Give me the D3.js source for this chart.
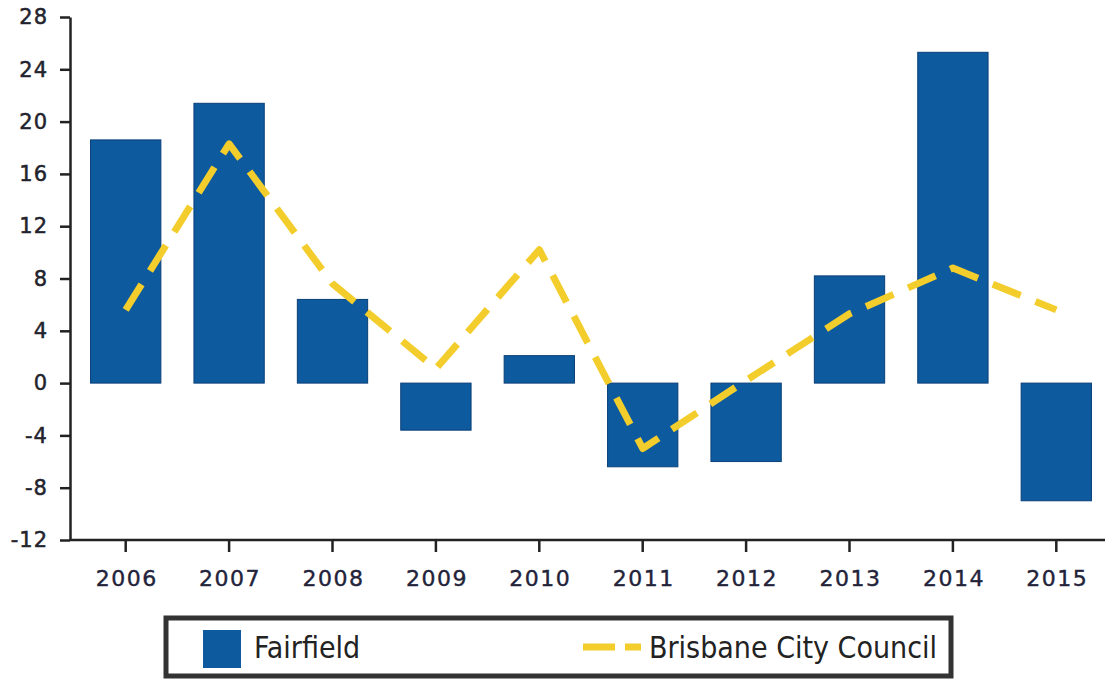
<!DOCTYPE html>
<html><head><meta charset="utf-8">
<script src="https://cdn.jsdelivr.net/npm/d3@7"></script>
<style>
html,body{margin:0;padding:0;background:#fff;}
svg{display:block;}
</style></head>
<body><svg id="c" width="1105" height="680"></svg>
<script>
const years = ["2006","2007","2008","2009","2010","2011","2012","2013","2014","2015"];
const fairfield = [18.6, 21.4, 6.4, -3.6, 2.1, -6.4, -6.0, 8.2, 25.3, -9.0];
const brisbane = [5.6, 18.3, 7.6, 1.1, 10.2, -5.0, 0.2, 5.3, 8.8, 5.6];
const yTicks = [28,24,20,16,12,8,4,0,-4,-8,-12];
const seriesNames = ["Fairfield","Brisbane City Council"];

const svg = d3.select("#c");
const font = "'DejaVu Sans', Verdana, sans-serif";
const fontC = "'DejaVu Sans Condensed', 'DejaVu Sans', sans-serif";
const x = d3.scaleBand().domain(years).range([74, 1108]).paddingInner(0.32).paddingOuter(0.16);
const y = d3.scaleLinear().domain([-12, 28]).range([540, 17]);
const barColor = "#0d5a9e", lineColor = "#f3cd2c";

// bars
svg.append("g").selectAll("rect").data(years).join("rect")
  .attr("x", d => x(d))
  .attr("width", x.bandwidth())
  .attr("y", (d,i) => y(Math.max(0, fairfield[i])))
  .attr("height", (d,i) => Math.abs(y(fairfield[i]) - y(0)))
  .attr("fill", barColor)
  .attr("stroke", "#0a3f78").attr("stroke-width", 1);

// line
const line = d3.line().x((d,i) => x(years[i]) + x.bandwidth()/2).y(d => y(d));
svg.append("path").datum(brisbane).attr("d", line)
  .attr("fill", "none").attr("stroke", lineColor).attr("stroke-width", 7)
  .attr("stroke-dasharray", "30,16").attr("stroke-linejoin", "round");

// y axis
const yAxis = svg.append("g").attr("transform", "translate(70,0)")
  .call(d3.axisLeft(y).tickValues(yTicks).tickSize(10).tickSizeOuter(0).tickPadding(12).tickFormat(d => d));
yAxis.select(".domain").attr("stroke", "#222").attr("stroke-width", 2.5);
yAxis.selectAll(".tick line").attr("stroke", "#222").attr("stroke-width", 2.5);
yAxis.selectAll("text").attr("font-family", font).attr("font-size", 21).attr("fill", "#23232d")
  .attr("stroke", "#23232d").attr("stroke-width", 0.5).style("letter-spacing", "1px");

// x axis
const xAxis = svg.append("g").attr("transform", "translate(0,540)")
  .call(d3.axisBottom(x).tickSize(12).tickSizeOuter(0).tickPadding(18));
xAxis.select(".domain").attr("stroke", "#222").attr("stroke-width", 2.5).attr("d", "M70,0H1105");
xAxis.selectAll(".tick line").attr("stroke", "#222").attr("stroke-width", 2.5);
xAxis.selectAll("text").attr("font-family", font).attr("font-size", 22).attr("fill", "#23233a")
  .attr("stroke", "#23233a").attr("stroke-width", 0.4)
  .attr("dx", 1).style("letter-spacing", "1.5px");

// legend
const lg = svg.append("g");
lg.append("rect").attr("x", 166).attr("y", 618).attr("width", 785).attr("height", 58)
  .attr("fill", "#fff").attr("stroke", "#333").attr("stroke-width", 5);
lg.append("rect").attr("x", 203).attr("y", 630).attr("width", 38).attr("height", 38).attr("fill", barColor);
lg.append("text").attr("x", 254).attr("y", 658).text(seriesNames[0])
  .attr("font-family", fontC).attr("font-size", 30).attr("fill", "#222");
lg.append("line").attr("x1", 583).attr("x2", 641).attr("y1", 647).attr("y2", 647)
  .attr("stroke", lineColor).attr("stroke-width", 7).attr("stroke-dasharray", "32,10");
lg.append("text").attr("x", 649).attr("y", 658).text(seriesNames[1])
  .attr("font-family", fontC).attr("font-size", 30).attr("fill", "#222");
</script></body></html>
